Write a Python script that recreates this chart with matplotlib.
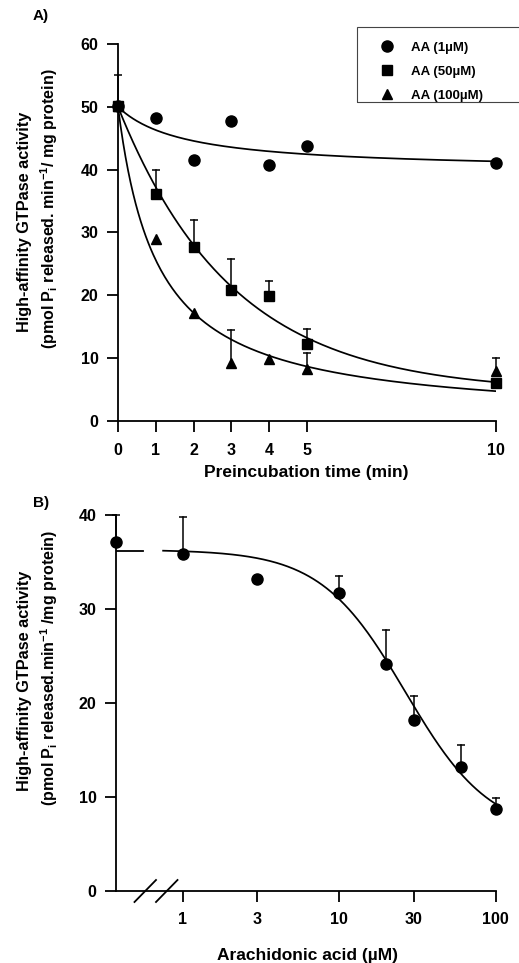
import numpy as np
import matplotlib
matplotlib.use('Agg')
import matplotlib.pyplot as plt
from matplotlib.lines import Line2D
from matplotlib.patches import Rectangle

plt.rcParams['font.family'] = ['Liberation Sans', 'DejaVu Sans']
plt.rcParams['font.weight'] = 'bold'
plt.rcParams['mathtext.fontset'] = 'custom'
plt.rcParams['mathtext.rm'] = 'Liberation Sans:bold'
plt.rcParams['mathtext.it'] = 'Liberation Sans:bold'
plt.rcParams['mathtext.bf'] = 'Liberation Sans:bold'

################## panel A data ##################
times = [0, 1, 2, 3, 4, 5, 10]
aa1 = [50.2, 48.2, 41.5, 47.8, 40.7, 43.7, 41.0]
aa50 = [50.2, 36.1, 27.7, 20.8, 19.9, 12.3, 6.1]
aa50_err = [4.9, 3.9, 4.3, 5.0, 2.4, 2.3, 0.0]
aa100 = [50.2, 28.9, 17.2, 9.2, 9.9, 8.3, 8.0]
aa100_err = [0.0, 0.0, 0.0, 5.3, 0.0, 2.6, 2.0]
labelsA = ['AA (1\u00b5M)', 'AA (50\u00b5M)', 'AA (100\u00b5M)']

# fitted curves (parameters)
fit1_drop, fit1_k = 10.2, 1.76         # hyperbolic decline
fit50_plateau, fit50_rate = 4.5, 0.33  # one-phase exponential decay
fit100_k = 1.05                        # hyperbolic decay

################## panel B data ##################
conc = [1, 3, 10, 20, 30, 60, 100]
activity = [35.8, 33.2, 31.7, 24.1, 18.2, 13.2, 8.7]
activity_err = [4.0, 0.0, 1.8, 3.7, 2.5, 2.3, 1.2]
control = 37.1
control_err = 2.9
ctrl_level = 36.2
fitB_top, fitB_bottom, fitB_ic50, fitB_hill = 36.3, 6.0, 26.5, 1.6

W, H = 519, 963
fig = plt.figure(figsize=(W / 100, H / 100), dpi=100)

def style(ax):
    for s in ['top', 'right']:
        ax.spines[s].set_visible(False)
    for s in ['left', 'bottom']:
        ax.spines[s].set_linewidth(1.3)
    ax.tick_params(axis='both', width=1.3, length=8, labelsize=11.5)
    ax.tick_params(axis='y', pad=6)
    ax.tick_params(axis='x', pad=7.5)
    for lab in ax.get_xticklabels() + ax.get_yticklabels():
        lab.set_fontweight('bold')

def up_errors(ax, x, y, err):
    # upper half error bars only, drawn as stem + cap
    for xi, yi, ei in zip(x, y, err):
        if ei > 0:
            ax.plot([xi, xi], [yi, yi + ei], 'k-', lw=1.1, clip_on=False, zorder=3)
            ax.plot([xi], [yi + ei], 'k_', ms=6, mew=1.1, clip_on=False, zorder=3)

################## panel A ##################
axA = fig.add_axes([118 / W, 1 - 421 / H, (495.7 - 118) / W, (421 - 44) / H])
t = np.linspace(0, 10, 300)
axA.plot(t, 50 - fit1_drop * t / (fit1_k + t), 'k-', lw=1.25)
axA.plot(t, fit50_plateau + (50 - fit50_plateau) * np.exp(-fit50_rate * t), 'k-', lw=1.25)
axA.plot(t, 50 * fit100_k / (fit100_k + t), 'k-', lw=1.25)

up_errors(axA, times, aa50, aa50_err)
up_errors(axA, times, aa100, aa100_err)
axA.plot(times, aa1, 'ko', ms=8, ls='none', clip_on=False, zorder=5)
axA.plot(times, aa50, 'ks', ms=7, ls='none', clip_on=False, zorder=5)
axA.plot(times, aa100, 'k^', ms=7.5, ls='none', clip_on=False, zorder=5)

axA.set_xlim(0, 10)
axA.set_ylim(0, 60)
axA.set_xticks([0, 1, 2, 3, 4, 5, 10])
axA.set_yticks([0, 10, 20, 30, 40, 50, 60])
style(axA)

handles = [Line2D([], [], marker='o', color='k', ls='none', ms=8),
           Line2D([], [], marker='s', color='k', ls='none', ms=6.5),
           Line2D([], [], marker='^', color='k', ls='none', ms=7.5)]
fig.legend(handles, labelsA, loc='upper left', bbox_to_anchor=(375 / W, 1 - 41.6 / H),
           frameon=False, handlelength=1.77, handletextpad=0.96, borderaxespad=0,
           labelspacing=0.88, borderpad=0, prop={'weight': 'bold', 'size': 9.5})
fig.patches.append(Rectangle((357 / W, 1 - 102 / H), 0.4, 75 / H, transform=fig.transFigure,
                             fill=False, ec='#444444', lw=0.8))

fig.text(41 / W, 1 - 16 / H, 'A)', fontsize=11, fontweight='bold', ha='center', va='center')
fig.text(25 / W, 1 - 222 / H, 'High-affinity GTPase activity', rotation=90, fontsize=11.7,
         fontweight='bold', ha='center', va='center')
fig.text(49 / W, 1 - 209 / H, '(pmol P$_{i}$ released. min$^{-1}$/ mg protein)', rotation=90,
         fontsize=11.5, fontweight='bold', ha='center', va='center')
fig.text(306.5 / W, 1 - 476.5 / H, 'Preincubation time (min)', fontsize=12.5, fontweight='bold',
         ha='center', va='baseline')

################## panel B ##################
xleft = 0.375
axB = fig.add_axes([116 / W, 1 - 890.7 / H, (495.7 - 116) / W, (890.7 - 515) / H])
axB.set_xscale('log')
c = np.logspace(np.log10(0.75), 2, 300)
axB.plot(c, fitB_bottom + (fitB_top - fitB_bottom) / (1 + (c / fitB_ic50) ** fitB_hill),
         'k-', lw=1.25)
axB.plot([xleft, 0.557], [ctrl_level, ctrl_level], 'k-', lw=1.3)

up_errors(axB, conc, activity, activity_err)
up_errors(axB, [xleft], [control], [control_err])
axB.plot(conc, activity, 'ko', ms=8, ls='none', clip_on=False, zorder=5)
axB.plot([xleft], [control], 'ko', ms=8, ls='none', clip_on=False, zorder=5)

axB.set_xlim(xleft, 100)
axB.set_ylim(0, 40)
axB.set_xticks([1, 3, 10, 30, 100])
axB.set_xticklabels(['1', '3', '10', '30', '100'])
axB.xaxis.set_minor_locator(plt.NullLocator())
axB.set_yticks([0, 10, 20, 30, 40])
style(axB)

# axis break marks
for x0 in [134.5, 156]:
    fig.add_artist(Line2D([x0 / W, (x0 + 21.5) / W], [1 - 902 / H, 1 - 880 / H],
                          transform=fig.transFigure, color='k', lw=1.3))

fig.text(33 / W, 1 - 503 / H, 'B)', fontsize=11, fontweight='bold', ha='left', va='center')
fig.text(25 / W, 1 - 681 / H, 'High-affinity GTPase activity', rotation=90, fontsize=11.7,
         fontweight='bold', ha='center', va='center')
fig.text(49 / W, 1 - 668 / H, '(pmol P$_{i}$ released.min$^{-1}$ /mg protein)', rotation=90,
         fontsize=11.5, fontweight='bold', ha='center', va='center')
fig.text(307.5 / W, 1 - 960 / H, 'Arachidonic acid (\u00b5M)', fontsize=12.5, fontweight='bold',
         ha='center', va='baseline')

fig.savefig('out.png', dpi=100)
